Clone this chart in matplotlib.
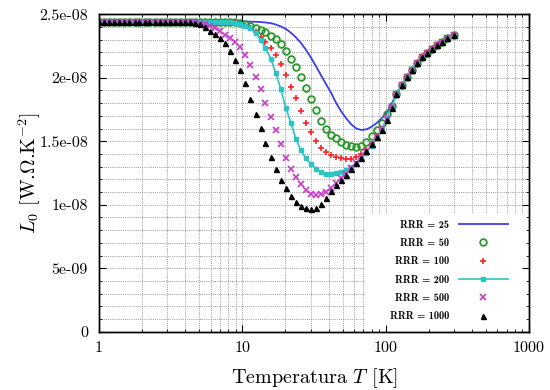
import numpy as np
import matplotlib
matplotlib.use("Agg")
import matplotlib.pyplot as plt
from matplotlib.ticker import FixedLocator, FixedFormatter, LogLocator, NullFormatter, MultipleLocator
from matplotlib.patches import Rectangle

plt.rcParams['mathtext.fontset'] = 'cm'
plt.rcParams['axes.unicode_minus'] = False
plt.rcParams['axes.formatter.use_mathtext'] = True
plt.rcParams['font.family'] = ['cmr10', 'DejaVu Serif']

# ---------------- data ----------------
T = [1.00, 1.08, 1.18, 1.28, 1.38, 1.50, 1.63, 1.77, 1.91, 2.08, 2.25, 2.44, 2.65, 2.87,
     3.12, 3.38, 3.66, 3.97, 4.31, 4.67, 5.07, 5.50, 5.96, 6.46, 7.01, 7.60, 8.24, 8.94,
     9.69, 10.5, 11.4, 12.4, 13.4, 14.5, 15.8, 17.1, 18.5, 20.1, 21.8, 23.6, 25.6, 27.8,
     30.1, 32.7, 35.4, 38.4, 41.7, 45.2, 49.0, 53.1, 57.6, 62.5, 67.8, 73.5, 79.7, 86.4,
     93.7, 102, 110, 119, 130, 141, 153, 166, 180, 195, 211, 229, 248, 269, 300]

UNIT = 1e-8  # values below are in units of 1e-8 W.Ohm.K^-2

L_rrr25 = [2.443] * 30 + [
    2.442, 2.441, 2.439, 2.436, 2.430, 2.420, 2.405, 2.385, 2.355, 2.320, 2.275, 2.220,
    2.160, 2.090, 2.020, 1.950, 1.880, 1.800, 1.735, 1.680, 1.633, 1.600, 1.589, 1.594,
    1.614, 1.643, 1.680, 1.730, 1.795,
    1.870, 1.944, 2.010, 2.065, 2.115, 2.160, 2.195, 2.227, 2.255, 2.283, 2.310, 2.338]

L_rrr50 = [2.443] * 27 + [
    2.440, 2.435, 2.427, 2.410, 2.395, 2.380, 2.360, 2.333, 2.305, 2.265, 2.212, 2.149,
    2.082, 2.005, 1.920, 1.834, 1.745, 1.660, 1.597, 1.553, 1.522, 1.494, 1.474, 1.462,
    1.457, 1.465, 1.493, 1.540, 1.590, 1.645, 1.715, 1.780,
    1.870, 1.944, 2.010, 2.065, 2.115, 2.160, 2.195, 2.227, 2.255, 2.283, 2.310, 2.338]

L_rrr100 = [2.443] * 26 + [
    2.440, 2.435, 2.425, 2.410, 2.390, 2.360, 2.322, 2.280, 2.235, 2.180, 2.105, 2.020,
    1.931, 1.842, 1.742, 1.645, 1.570, 1.500, 1.447, 1.415, 1.393, 1.378, 1.369, 1.364,
    1.364, 1.373, 1.400, 1.435, 1.478, 1.530, 1.598, 1.688, 1.775,
    1.870, 1.944, 2.010, 2.065, 2.115, 2.160, 2.195, 2.227, 2.255, 2.283, 2.310, 2.338]

L_rrr200 = [2.443] * 25 + [
    2.440, 2.437, 2.432, 2.423, 2.410, 2.390, 2.355, 2.300, 2.235, 2.150, 2.040, 1.915,
    1.765, 1.645, 1.520, 1.430, 1.365, 1.320, 1.282, 1.256, 1.244, 1.241, 1.248, 1.260,
    1.275, 1.296, 1.328, 1.365, 1.410, 1.465, 1.525, 1.592, 1.685, 1.770,
    1.870, 1.944, 2.010, 2.065, 2.115, 2.160, 2.195, 2.227, 2.255, 2.283, 2.310, 2.338]

L_rrr500 = [2.443] * 19 + [
    2.440, 2.435, 2.425, 2.410, 2.390, 2.365, 2.340, 2.315, 2.285, 2.245, 2.180, 2.100,
    2.010, 1.910, 1.805, 1.695, 1.585, 1.475, 1.368, 1.280, 1.220, 1.162, 1.117, 1.087,
    1.077, 1.082, 1.100, 1.133, 1.170, 1.207, 1.246, 1.287, 1.330, 1.375, 1.425, 1.480,
    1.537, 1.597, 1.677, 1.770,
    1.870, 1.944, 2.010, 2.065, 2.115, 2.160, 2.195, 2.227, 2.255, 2.283, 2.310, 2.338]

L_rrr1000 = [2.443] * 18 + [
    2.440, 2.432, 2.420, 2.400, 2.370, 2.345, 2.315, 2.275, 2.210, 2.140, 2.060, 1.960,
    1.835, 1.715, 1.605, 1.490, 1.375, 1.280, 1.195, 1.130, 1.072, 1.025, 0.990, 0.973,
    0.967, 0.975, 1.005, 1.050, 1.105, 1.155, 1.198, 1.238, 1.280, 1.325, 1.370, 1.420,
    1.475, 1.530, 1.590, 1.670, 1.765,
    1.870, 1.944, 2.010, 2.065, 2.115, 2.160, 2.195, 2.227, 2.255, 2.283, 2.310, 2.338]

series_labels = ["RRR = 25", "RRR = 50", "RRR = 100", "RRR = 200", "RRR = 500", "RRR = 1000"]

x_ticks = [1, 10, 100, 1000]
x_tick_labels = ["1", "10", "100", "1000"]
y_ticks = [0, 5e-9, 1e-8, 1.5e-8, 2e-8, 2.5e-8]
y_tick_labels = ["0", "5e-09", "1e-08", "1.5e-08", "2e-08", "2.5e-08"]

# ---------------- figure ----------------
fig = plt.figure(figsize=(5.5, 3.9), dpi=100)
ax = fig.add_axes([0.18, 0.1495, 0.7818, 0.8138])
ax.set_xscale('log')
ax.set_xlim(1, 1000)
ax.set_ylim(0, 2.5e-8)

Ta = np.array(T)
ax.plot(Ta, np.array(L_rrr25) * UNIT, color='#3c3cf0', lw=1.3, label=series_labels[0], zorder=2)
ax.plot(Ta, np.array(L_rrr50) * UNIT, ls='none', marker='o', ms=4.8, mfc='none',
        mec='#2a982a', mew=1.3, label=series_labels[1], zorder=2)
ax.plot(Ta, np.array(L_rrr100) * UNIT, ls='none', marker='+', ms=5, mew=1.2,
        color='#ff2020', label=series_labels[2], zorder=2)
ax.plot(Ta, np.array(L_rrr200) * UNIT, color='#2cc4c4', lw=1.2, marker='s', ms=2.6,
        label=series_labels[3], zorder=2)
ax.plot(Ta, np.array(L_rrr500) * UNIT, ls='none', marker='x', ms=4.6, mew=1.2,
        color='#c83cc8', label=series_labels[4], zorder=2)
ax.plot(Ta, np.array(L_rrr1000) * UNIT, ls='none', marker='^', ms=3.6,
        color='black', label=series_labels[5], zorder=2)

ax.xaxis.set_major_locator(FixedLocator(x_ticks))
ax.xaxis.set_major_formatter(FixedFormatter(x_tick_labels))
ax.xaxis.set_minor_locator(LogLocator(base=10, subs=np.arange(2, 10)))
ax.xaxis.set_minor_formatter(NullFormatter())
ax.yaxis.set_major_locator(FixedLocator(y_ticks))
ax.yaxis.set_major_formatter(FixedFormatter(y_tick_labels))
ax.yaxis.set_minor_locator(MultipleLocator(1e-9))

ax.set_axisbelow(True)
ax.grid(True, which='both', color='#9a9a9a', linestyle=(0, (1, 1.2)), linewidth=0.7)
ax.tick_params(which='both', length=0)
ax.tick_params(axis='y', pad=8, labelsize=11.5)
ax.tick_params(axis='x', pad=7, labelsize=11.5)

# white background behind the key (hides grid there)
ax.add_patch(Rectangle((0.619, 0.0), 0.381, 0.374, transform=ax.transAxes,
                       facecolor='white', edgecolor='none', zorder=1))

leg = ax.legend(loc='lower right', bbox_to_anchor=(0.951, 0.033), markerfirst=False,
                frameon=False, prop={'family': 'cmb10', 'size': 7.5},
                handlelength=4.7, handletextpad=0.96, labelspacing=0.8,
                borderpad=0, borderaxespad=0)

ax.set_xlabel("Temperatura $T$ [K]", fontsize=14.5, labelpad=8)
ax.set_ylabel(r"$L_0$ [W.$\Omega$.K$^{-2}$]", fontsize=14.5, labelpad=-2.5)

# overlay axes for inward tick marks on all four sides (drawn above key background)
axt = fig.add_axes(ax.get_position(), sharex=ax, sharey=ax)
axt.patch.set_visible(False)
axt.grid(False)
axt.tick_params(which='both', direction='in', top=True, right=True,
                labelbottom=False, labelleft=False)
axt.tick_params(which='major', length=5, width=0.8)
axt.tick_params(which='minor', length=2.5, width=0.6)
for s in list(axt.spines.values()) + list(ax.spines.values()):
    s.set_linewidth(1.0)

fig.savefig("out.png", dpi=100)
